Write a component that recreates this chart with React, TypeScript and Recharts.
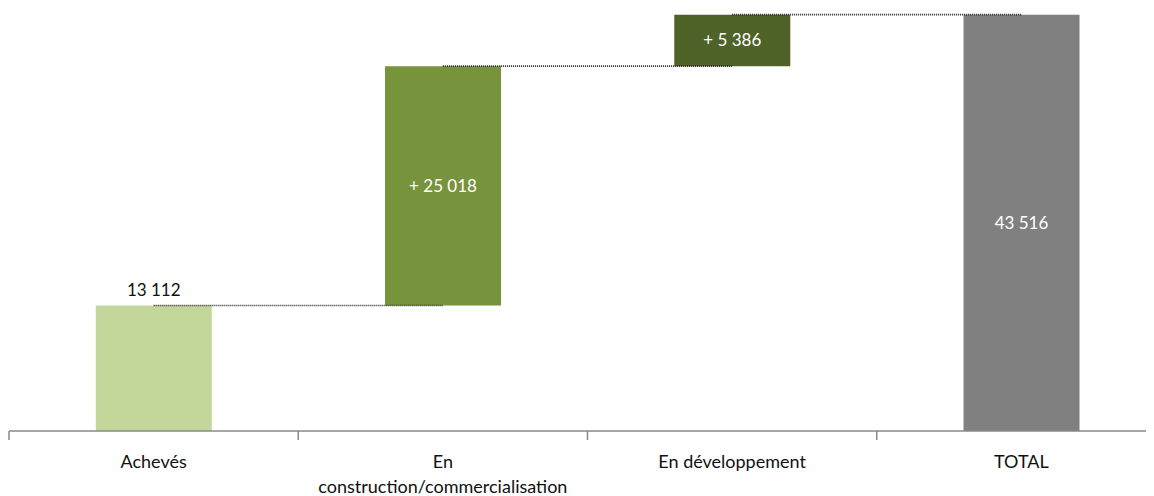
import React from "react";
import { ComposedChart, Bar, Line, XAxis, YAxis, Cell, LabelList } from "recharts";

const categories = ["Achevés", "En construction/commercialisation", "En développement", "TOTAL"];
const amounts = [13112, 25018, 5386, 43516];
const isTotal = [false, false, false, true];
const isIncrement = [false, true, true, false];
const colors = ["#C4D79B", "#77933C", "#4F6228", "#808080"];

// waterfall bases from running totals
const bases: number[] = [];
{
  let run = 0;
  amounts.forEach((v, i) => {
    if (isTotal[i]) {
      bases.push(0);
    } else {
      bases.push(run);
      run += v;
    }
  });
}
const tops = amounts.map((v, i) => bases[i] + v);

const data = categories.map((c, i) => {
  const row: any = { name: c, base: bases[i], value: amounts[i] };
  for (let k = 0; k < categories.length - 1; k++) {
    row["conn" + k] = i === k || i === k + 1 ? tops[k] : null;
  }
  return row;
});

const W = 1158;
const H = 488;
const AXIS_H = 65;
const M = { top: 2, right: 0, left: 1, bottom: 0 };
const BAND = (W - M.left - M.right) / categories.length;
const FONT = "Lato, 'Open Sans', sans-serif";

const fmt = (v: number) => String(v).replace(/\B(?=(\d{3})+(?!\d))/g, " ");

const wrap = (t: string) => {
  if (t.length > 20) {
    const i = t.indexOf(" ");
    return [t.slice(0, i), t.slice(i + 1)];
  }
  return [t];
};

const Tick = (props: any) => {
  const { x, y, payload } = props;
  const lines = wrap(payload.value);
  const axisY = y - 8;
  return (
    <g>
      <line x1={x - BAND / 2} x2={x - BAND / 2} y1={axisY} y2={axisY + 9} stroke="#888" strokeWidth={1.5} />
      <text x={x} y={axisY + 37} textAnchor="middle" fontFamily={FONT} fontSize={18} fill="#111">
        {lines.map((l, i) => (
          <tspan key={i} x={x} dy={i === 0 ? 0 : 25}>
            {l}
          </tspan>
        ))}
      </text>
    </g>
  );
};

const ValueLabel = (props: any) => {
  const { x, y, width, height, index } = props;
  const v = amounts[index];
  const text = (isIncrement[index] ? "+ " : "") + fmt(v);
  const cx = x + width / 2;
  if (index === 0) {
    return (
      <text x={cx} y={y - 10} textAnchor="middle" fontFamily={FONT} fontSize={17} fill="#111">
        {text}
      </text>
    );
  }
  return (
    <text x={cx} y={y + height / 2} dy="0.35em" textAnchor="middle" fontFamily={FONT} fontSize={17} fill="#fff">
      {text}
    </text>
  );
};

export default function App() {
  return (
    <div style={{ width: 1146, overflow: "hidden" }}>
      <ComposedChart width={W} height={H} data={data} margin={M} barCategoryGap="30%">
        <XAxis
          dataKey="name"
          height={AXIS_H}
          axisLine={{ stroke: "#888", strokeWidth: 1.5 }}
          tickLine={false}
          interval={0}
          tick={<Tick />}
        />
        <YAxis hide domain={[0, 44000]} />
        <Bar dataKey="base" stackId="w" fill="transparent" isAnimationActive={false} />
        <Bar dataKey="value" stackId="w" isAnimationActive={false}>
          {data.map((d, i) => (
            <Cell key={i} fill={colors[i]} />
          ))}
          <LabelList dataKey="value" content={<ValueLabel />} />
        </Bar>
        {categories.slice(0, -1).map((_, k) => (
          <Line
            key={k}
            dataKey={"conn" + k}
            stroke="#222"
            strokeWidth={1.6}
            strokeDasharray="1 1"
            dot={false}
            activeDot={false}
            connectNulls={false}
            isAnimationActive={false}
          />
        ))}
      </ComposedChart>
    </div>
  );
}
